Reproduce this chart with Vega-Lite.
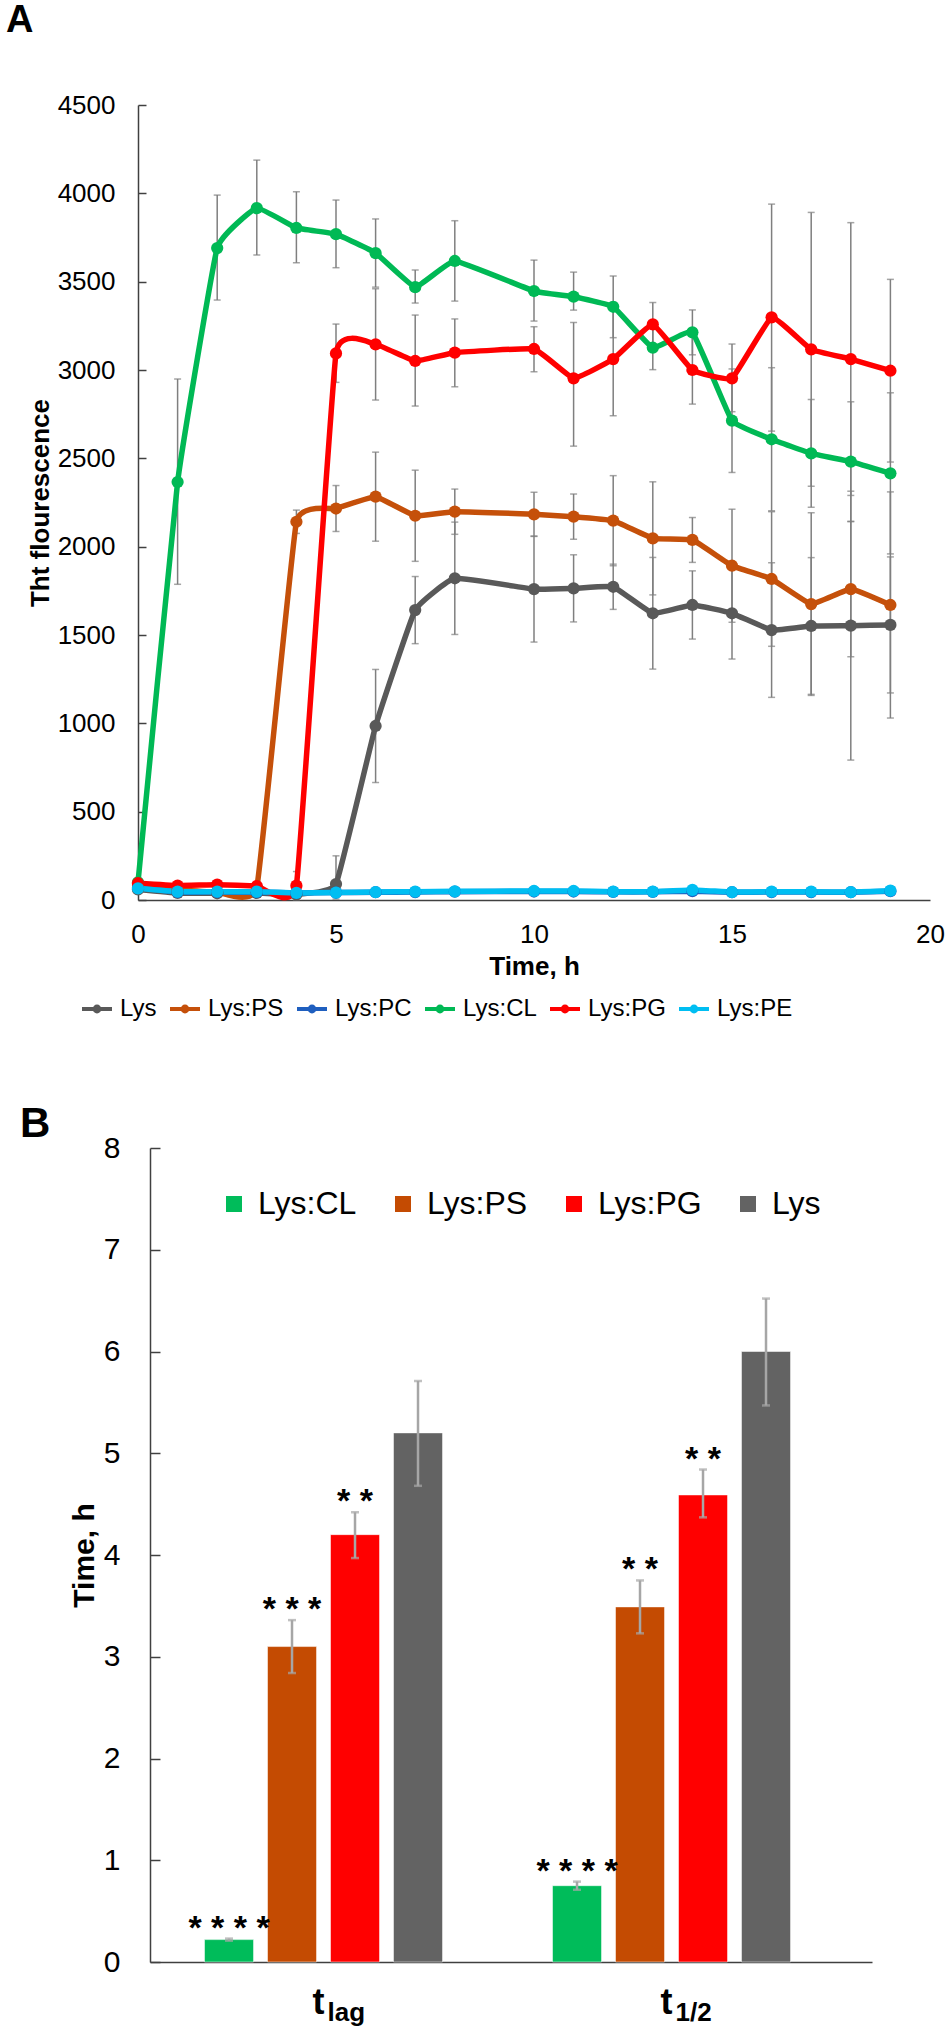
{
  "$schema": "https://vega.github.io/schema/vega-lite/v6.json",
  "padding": {"left": 6, "top": 2, "right": 4, "bottom": 2},
  "background": "white",
  "spacing": 82,
  "config": {
    "view": {"stroke": null},
    "font": "Liberation Sans",
    "axis": {"labelFont": "Liberation Sans", "titleFont": "Liberation Sans", "labelColor": "black", "titleColor": "black", "domainColor": "#404040", "tickColor": "#404040", "grid": false, "labelOverlap": false},
    "legend": {"labelFont": "Liberation Sans", "labelColor": "black"},
    "title": {"font": "Liberation Sans", "color": "black"}
  },
  "resolve": {"scale": {"x": "independent", "y": "independent", "color": "independent", "xOffset": "independent"}, "legend": {"color": "independent"}},
  "datasets": {
    "kin": [
      {"s":"Lys","t":0,"v":60},{"s":"Lys","t":1,"v":40},{"s":"Lys","t":2,"v":38},{"s":"Lys","t":3,"v":40},{"s":"Lys","t":4,"v":32},
      {"s":"Lys","t":5,"v":90,"lo":5,"hi":250},{"s":"Lys","t":6,"v":985,"lo":665,"hi":1305},{"s":"Lys","t":7,"v":1641,"lo":1451,"hi":1831},
      {"s":"Lys","t":8,"v":1821,"lo":1503,"hi":2139},{"s":"Lys","t":10,"v":1760,"lo":1460,"hi":2060},{"s":"Lys","t":11,"v":1764,"lo":1574,"hi":1954},
      {"s":"Lys","t":12,"v":1773,"lo":1645,"hi":1901},{"s":"Lys","t":13,"v":1623,"lo":1307,"hi":1939},{"s":"Lys","t":14,"v":1670,"lo":1477,"hi":1863},
      {"s":"Lys","t":15,"v":1623,"lo":1364,"hi":1882},{"s":"Lys","t":16,"v":1528,"lo":1147,"hi":1909},{"s":"Lys","t":17,"v":1551,"lo":1164,"hi":1938},
      {"s":"Lys","t":18,"v":1553,"lo":792,"hi":2314},{"s":"Lys","t":19,"v":1557,"lo":1172,"hi":1942},

      {"s":"Lys:PS","t":0,"v":85},{"s":"Lys:PS","t":1,"v":60},{"s":"Lys:PS","t":2,"v":45},{"s":"Lys:PS","t":3,"v":70},
      {"s":"Lys:PS","t":4,"v":2141,"lo":2075,"hi":2207},{"s":"Lys:PS","t":5,"v":2216,"lo":2086,"hi":2346},{"s":"Lys:PS","t":6,"v":2283,"lo":2031,"hi":2535},
      {"s":"Lys:PS","t":7,"v":2175,"lo":1917,"hi":2433},{"s":"Lys:PS","t":8,"v":2198,"lo":2070,"hi":2326},{"s":"Lys:PS","t":10,"v":2183,"lo":2058,"hi":2308},
      {"s":"Lys:PS","t":11,"v":2170,"lo":2042,"hi":2298},{"s":"Lys:PS","t":12,"v":2147,"lo":1892,"hi":2402},{"s":"Lys:PS","t":13,"v":2047,"lo":1727,"hi":2367},
      {"s":"Lys:PS","t":14,"v":2038,"lo":1911,"hi":2165},{"s":"Lys:PS","t":15,"v":1892,"lo":1572,"hi":2212},{"s":"Lys:PS","t":16,"v":1817,"lo":1436,"hi":2198},
      {"s":"Lys:PS","t":17,"v":1675,"lo":1158,"hi":2192},{"s":"Lys:PS","t":18,"v":1760,"lo":1377,"hi":2143},{"s":"Lys:PS","t":19,"v":1670,"lo":1030,"hi":2310},

      {"s":"Lys:PC","t":0,"v":70},{"s":"Lys:PC","t":1,"v":45},{"s":"Lys:PC","t":2,"v":45},{"s":"Lys:PC","t":3,"v":44},{"s":"Lys:PC","t":4,"v":40},
      {"s":"Lys:PC","t":5,"v":42},{"s":"Lys:PC","t":6,"v":44},{"s":"Lys:PC","t":7,"v":45},{"s":"Lys:PC","t":8,"v":47},{"s":"Lys:PC","t":10,"v":48},
      {"s":"Lys:PC","t":11,"v":48},{"s":"Lys:PC","t":12,"v":46},{"s":"Lys:PC","t":13,"v":46},{"s":"Lys:PC","t":14,"v":50},{"s":"Lys:PC","t":15,"v":44},
      {"s":"Lys:PC","t":16,"v":45},{"s":"Lys:PC","t":17,"v":45},{"s":"Lys:PC","t":18,"v":44},{"s":"Lys:PC","t":19,"v":50},

      {"s":"Lys:CL","t":0,"v":100},{"s":"Lys:CL","t":1,"v":2366,"lo":1787,"hi":2949},{"s":"Lys:CL","t":2,"v":3690,"lo":3396,"hi":3990},
      {"s":"Lys:CL","t":3,"v":3916,"lo":3651,"hi":4188},{"s":"Lys:CL","t":4,"v":3804,"lo":3607,"hi":4009},{"s":"Lys:CL","t":5,"v":3769,"lo":3579,"hi":3962},
      {"s":"Lys:CL","t":6,"v":3662,"lo":3469,"hi":3855},{"s":"Lys:CL","t":7,"v":3469,"lo":3379,"hi":3566},{"s":"Lys:CL","t":8,"v":3617,"lo":3390,"hi":3845},
      {"s":"Lys:CL","t":10,"v":3447,"lo":3277,"hi":3622},{"s":"Lys:CL","t":11,"v":3415,"lo":3339,"hi":3554},{"s":"Lys:CL","t":12,"v":3358,"lo":3183,"hi":3532},
      {"s":"Lys:CL","t":13,"v":3126,"lo":3002,"hi":3250},{"s":"Lys:CL","t":14,"v":3213,"lo":3086,"hi":3340},{"s":"Lys:CL","t":15,"v":2713,"lo":2420,"hi":3006},
      {"s":"Lys:CL","t":16,"v":2608,"lo":2203,"hi":3013},{"s":"Lys:CL","t":17,"v":2528,"lo":2223,"hi":2833},{"s":"Lys:CL","t":18,"v":2481,"lo":2142,"hi":2820},
      {"s":"Lys:CL","t":19,"v":2415,"lo":1959,"hi":2871},

      {"s":"Lys:PG","t":0,"v":95},{"s":"Lys:PG","t":1,"v":82},{"s":"Lys:PG","t":2,"v":87},{"s":"Lys:PG","t":3,"v":79},
      {"s":"Lys:PG","t":4,"v":81,"lo":1,"hi":161},{"s":"Lys:PG","t":5,"v":3094,"lo":2930,"hi":3260},{"s":"Lys:PG","t":6,"v":3145,"lo":2830,"hi":3460},
      {"s":"Lys:PG","t":7,"v":3051,"lo":2796,"hi":3311},{"s":"Lys:PG","t":8,"v":3098,"lo":2905,"hi":3289},{"s":"Lys:PG","t":10,"v":3119,"lo":2990,"hi":3245},
      {"s":"Lys:PG","t":11,"v":2953,"lo":2569,"hi":3269},{"s":"Lys:PG","t":12,"v":3062,"lo":2741,"hi":3383},{"s":"Lys:PG","t":13,"v":3258,"lo":3134,"hi":3382},
      {"s":"Lys:PG","t":14,"v":3000,"lo":2807,"hi":3193},{"s":"Lys:PG","t":15,"v":2953,"lo":2764,"hi":3147},{"s":"Lys:PG","t":16,"v":3298,"lo":2654,"hi":3939},
      {"s":"Lys:PG","t":17,"v":3117,"lo":2342,"hi":3892},{"s":"Lys:PG","t":18,"v":3062,"lo":2290,"hi":3834},{"s":"Lys:PG","t":19,"v":2996,"lo":2479,"hi":3513},

      {"s":"Lys:PE","t":0,"v":66},{"s":"Lys:PE","t":1,"v":47},{"s":"Lys:PE","t":2,"v":47},{"s":"Lys:PE","t":3,"v":47},{"s":"Lys:PE","t":4,"v":40},
      {"s":"Lys:PE","t":5,"v":42},{"s":"Lys:PE","t":6,"v":45},{"s":"Lys:PE","t":7,"v":47},{"s":"Lys:PE","t":8,"v":49},{"s":"Lys:PE","t":10,"v":51},
      {"s":"Lys:PE","t":11,"v":51},{"s":"Lys:PE","t":12,"v":47},{"s":"Lys:PE","t":13,"v":47},{"s":"Lys:PE","t":14,"v":57},{"s":"Lys:PE","t":15,"v":45},
      {"s":"Lys:PE","t":16,"v":47},{"s":"Lys:PE","t":17,"v":47},{"s":"Lys:PE","t":18,"v":45},{"s":"Lys:PE","t":19,"v":53}
    ],
    "bars": [
      {"g":"tlag","s":"Lys:CL","v":0.22,"lo":0.21,"hi":0.23,"sig":"* * * *"},
      {"g":"tlag","s":"Lys:PS","v":3.1,"lo":2.84,"hi":3.36,"sig":"* * *"},
      {"g":"tlag","s":"Lys:PG","v":4.2,"lo":3.97,"hi":4.42,"sig":"* *"},
      {"g":"tlag","s":"Lys","v":5.2,"lo":4.68,"hi":5.71},
      {"g":"t1/2","s":"Lys:CL","v":0.75,"lo":0.71,"hi":0.79,"sig":"* * * *"},
      {"g":"t1/2","s":"Lys:PS","v":3.49,"lo":3.23,"hi":3.75,"sig":"* *"},
      {"g":"t1/2","s":"Lys:PG","v":4.59,"lo":4.37,"hi":4.84,"sig":"* *"},
      {"g":"t1/2","s":"Lys","v":6.0,"lo":5.47,"hi":6.52}
    ],
    "xlab": [
      {"g":"tlag","m":"t","sub":"lag"},
      {"g":"t1/2","m":"t","sub":"1/2"}
    ]
  },
  "vconcat": [
    {
      "title": {"text": "A", "anchor": "start", "frame": "group", "dx": -132, "dy": 51, "offset": 73, "fontSize": 38, "fontWeight": "bold", "baseline": "alphabetic"},
      "width": 792,
      "height": 795,
      "data": {"name": "kin"},
      "encoding": {
        "x": {"field": "t", "type": "quantitative", "title": "Time, h",
          "scale": {"domain": [0, 20], "nice": false},
          "axis": {"values": [0, 5, 10, 15, 20], "format": "d", "ticks": false, "labelPadding": 21, "labelFontSize": 26, "titleFontSize": 26, "titleFontWeight": "bold", "titlePadding": 6, "domainWidth": 1.5, "labelFlush": false}}
      },
      "layer": [
        {
          "transform": [{"filter": "isValid(datum.lo)"}],
          "mark": {"type": "rule", "color": "#7f7f7f", "strokeWidth": 1.5},
          "encoding": {
            "y": {"field": "lo", "type": "quantitative", "title": "Tht flourescence",
              "scale": {"domain": [0, 4500], "nice": false},
              "axis": {"values": [0, 500, 1000, 1500, 2000, 2500, 3000, 3500, 4000, 4500], "format": "d", "tickSize": -8, "tickWidth": 1.5, "labelPadding": 31, "labelFontSize": 26, "titleFontSize": 26, "titleFontWeight": "bold", "titlePadding": 4, "domainWidth": 1.5}},
            "y2": {"field": "hi"},
            "detail": {"field": "s"}
          }
        },
        {
          "transform": [{"filter": "isValid(datum.lo)"}],
          "mark": {"type": "tick", "orient": "horizontal", "color": "#7f7f7f", "size": 7, "thickness": 1.5},
          "encoding": {"y": {"field": "lo", "type": "quantitative", "title": "Tht flourescence"}}
        },
        {
          "transform": [{"filter": "isValid(datum.hi)"}],
          "mark": {"type": "tick", "orient": "horizontal", "color": "#7f7f7f", "size": 7, "thickness": 1.5},
          "encoding": {"y": {"field": "hi", "type": "quantitative", "title": "Tht flourescence"}}
        },
        {
          "mark": {"type": "line", "interpolate": "cardinal", "tension": 0.7, "strokeWidth": 5.5},
          "encoding": {
            "y": {"field": "v", "type": "quantitative", "title": "Tht flourescence"},
            "color": {"field": "s", "type": "nominal",
              "scale": {"domain": ["Lys", "Lys:PS", "Lys:PC", "Lys:CL", "Lys:PG", "Lys:PE"], "range": ["#595959", "#C5500A", "#1F5FBF", "#00B955", "#FF0000", "#00BEF2"]},
              "legend": {"orient": "none", "legendX": -58, "legendY": 887, "direction": "horizontal", "columns": 6, "title": null,
                "symbolType": "M-1,0L1,0M0.16,0A0.16,0.16,0,1,1,-0.16,0A0.16,0.16,0,1,1,0.16,0",
                "symbolSize": 900, "symbolStrokeWidth": 4, "labelFontSize": 24, "labelOffset": 6, "columnPadding": 5}}
          }
        },
        {
          "mark": {"type": "point", "filled": true, "size": 150, "opacity": 1},
          "encoding": {
            "y": {"field": "v", "type": "quantitative", "title": "Tht flourescence"},
            "color": {"field": "s", "type": "nominal"}
          }
        }
      ]
    },
    {
      "title": {"text": "B", "anchor": "start", "frame": "group", "dx": -118, "dy": 51, "offset": 5, "fontSize": 42, "fontWeight": "bold", "baseline": "alphabetic"},
      "width": 734,
      "height": 814,
      "layer": [
        {
          "data": {"name": "bars"},
          "mark": {"type": "bar", "stroke": "white", "strokeWidth": 1, "strokeOpacity": 0.5},
          "encoding": {
            "x": {"field": "g", "type": "nominal", "sort": ["tlag", "t1/2"],
              "scale": {"paddingInner": 0, "paddingOuter": 0.0546, "align": 0.303},
              "axis": {"labels": false, "ticks": false, "title": null, "domainDash": [0, 12, 722, 50], "domainWidth": 1.5}},
            "xOffset": {"field": "s", "type": "nominal", "sort": ["Lys:CL", "Lys:PS", "Lys:PG", "Lys"],
              "scale": {"paddingInner": 0.222, "paddingOuter": 0.873}},
            "y": {"field": "v", "type": "quantitative", "title": "Time, h",
              "scale": {"domain": [0, 8], "nice": false},
              "axis": {"values": [0, 1, 2, 3, 4, 5, 6, 7, 8], "format": "d", "tickSize": -10, "tickWidth": 1.5, "labelPadding": 40, "labelFontSize": 30, "titleFontSize": 30, "titleFontWeight": "bold", "titlePadding": 4, "offset": -12, "domainWidth": 1.5}},
            "color": {"field": "s", "type": "nominal",
              "scale": {"domain": ["Lys:CL", "Lys:PS", "Lys:PG", "Lys"], "range": ["#00BC5A", "#C44B02", "#FF0000", "#636363"]},
              "legend": {"orient": "none", "legendX": 80, "legendY": 40, "direction": "horizontal", "columns": 4, "title": null,
                "symbolType": "square", "symbolSize": 256, "symbolStrokeWidth": 0, "labelFontSize": 32, "labelOffset": 8, "columnPadding": 30}}
          }
        },
        {
          "data": {"name": "bars"},
          "mark": {"type": "rule", "color": "#a6a6a6", "strokeWidth": 2.5},
          "encoding": {
            "x": {"field": "g", "type": "nominal", "sort": ["tlag", "t1/2"]},
            "xOffset": {"field": "s", "type": "nominal", "sort": ["Lys:CL", "Lys:PS", "Lys:PG", "Lys"]},
            "y": {"field": "lo", "type": "quantitative", "title": "Time, h"},
            "y2": {"field": "hi"}
          }
        },
        {
          "data": {"name": "bars"},
          "mark": {"type": "tick", "orient": "horizontal", "color": "#a6a6a6", "size": 8, "thickness": 2.5},
          "encoding": {
            "x": {"field": "g", "type": "nominal", "sort": ["tlag", "t1/2"]},
            "xOffset": {"field": "s", "type": "nominal", "sort": ["Lys:CL", "Lys:PS", "Lys:PG", "Lys"]},
            "y": {"field": "lo", "type": "quantitative", "title": "Time, h"}
          }
        },
        {
          "data": {"name": "bars"},
          "mark": {"type": "tick", "orient": "horizontal", "color": "#a6a6a6", "size": 8, "thickness": 2.5},
          "encoding": {
            "x": {"field": "g", "type": "nominal", "sort": ["tlag", "t1/2"]},
            "xOffset": {"field": "s", "type": "nominal", "sort": ["Lys:CL", "Lys:PS", "Lys:PG", "Lys"]},
            "y": {"field": "hi", "type": "quantitative", "title": "Time, h"}
          }
        },
        {
          "data": {"name": "bars"},
          "transform": [{"filter": "isValid(datum.sig)"}],
          "mark": {"type": "text", "fontSize": 34, "fontWeight": "bold", "baseline": "alphabetic", "color": "black"},
          "encoding": {
            "x": {"field": "g", "type": "nominal", "sort": ["tlag", "t1/2"]},
            "xOffset": {"field": "s", "type": "nominal", "sort": ["Lys:CL", "Lys:PS", "Lys:PG", "Lys"]},
            "y": {"field": "hi", "type": "quantitative", "title": "Time, h"},
            "text": {"field": "sig"}
          }
        },
        {
          "data": {"name": "xlab"},
          "mark": {"type": "text", "fontSize": 36, "fontWeight": "bold", "align": "left", "baseline": "alphabetic", "dx": -11, "dy": 52, "color": "black"},
          "encoding": {
            "x": {"field": "g", "type": "nominal", "sort": ["tlag", "t1/2"]},
            "y": {"datum": 0, "type": "quantitative"},
            "text": {"field": "m"}
          }
        },
        {
          "data": {"name": "xlab"},
          "mark": {"type": "text", "fontSize": 26, "fontWeight": "bold", "align": "left", "baseline": "alphabetic", "dx": 4, "dy": 59, "color": "black"},
          "encoding": {
            "x": {"field": "g", "type": "nominal", "sort": ["tlag", "t1/2"]},
            "y": {"datum": 0, "type": "quantitative"},
            "text": {"field": "sub"}
          }
        }
      ]
    }
  ]
}
